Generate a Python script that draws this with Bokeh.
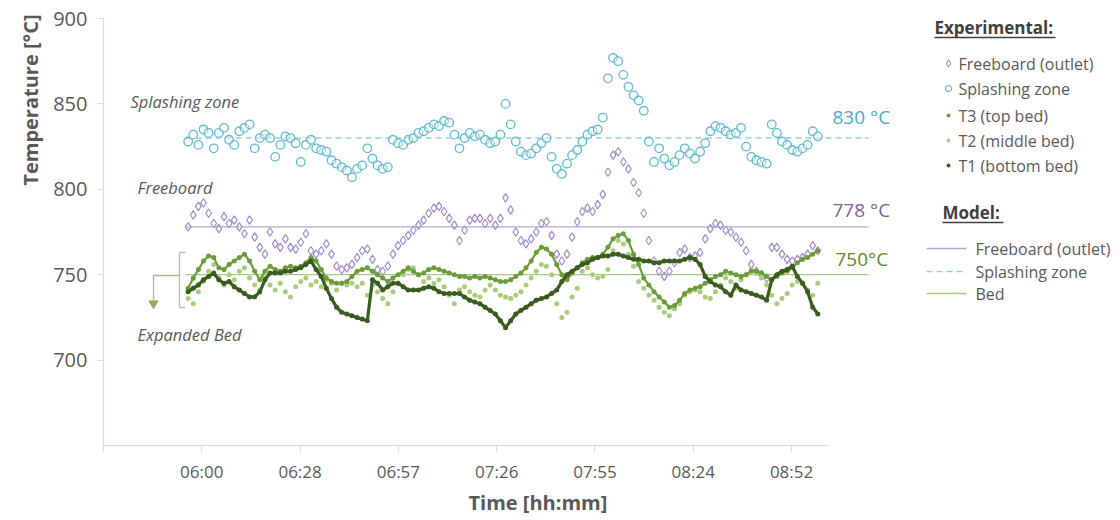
import math
from bokeh.plotting import figure
from bokeh.models import ColumnDataSource, FixedTicker, Range1d, Title
from bokeh.embed import file_html
from bokeh.resources import INLINE
from bokeh.core.properties import value

# ---------------- data ----------------
# sample times, minutes after midnight (logger every 1.5 min from 05:56)
time_min = [356.0 + 1.5 * i for i in range(124)]

splashing_zone = [
    828, 832, 826, 835, 833, 824, 833, 836, 829, 826,
    834, 836, 838, 824, 830, 832, 830, 819, 826, 831,
    830, 827, 816, 826, 829, 824, 823, 822, 817, 815,
    813, 811, 807, 812, 814, 824, 818, 814, 812, 813,
    829, 827, 826, 829, 830, 833, 834, 836, 838, 837,
    840, 839, 832, 824, 830, 833, 831, 832, 829, 827,
    828, 832, 850, 838, 828, 822, 820, 821, 824, 827,
    830, 819, 812, 809, 815, 820, 823, 828, 832, 834,
    835, 842, 865, 877, 875, 867, 860, 855, 852, 846,
    828, 816, 824, 818, 814, 816, 820, 824, 821, 818,
    822, 827, 834, 837, 836, 834, 832, 833, 836, 825,
    819, 817, 816, 815, 838, 833, 828, 826, 823, 822,
    824, 826, 834, 831,
]
freeboard_outlet = [
    778, 785, 790, 792, 786, 780, 777, 784, 780, 782,
    778, 774, 782, 772, 766, 762, 775, 768, 766, 771,
    766, 765, 769, 774, 764, 762, 764, 768, 762, 755,
    753, 754, 756, 760, 764, 765, 759, 753, 752, 755,
    762, 767, 770, 773, 776, 779, 782, 786, 789, 790,
    787, 783, 779, 770, 776, 782, 783, 783, 780, 783,
    779, 783, 795, 788, 775, 770, 768, 771, 775, 780,
    781, 773, 762, 758, 762, 772, 781, 787, 789, 787,
    791, 797, 810, 820, 822, 816, 812, 804, 798, 786,
    770, 758, 752, 749, 752, 757, 763, 765, 760, 761,
    763, 771, 777, 780, 779, 776, 775, 772, 769, 764,
    756, 752, 750, 748, 766, 766, 762, 759, 758, 759,
    760, 762, 767, 764,
]
t3_top_bed = [
    742, 748, 753, 758, 761, 760, 754, 753, 756, 758,
    760, 762, 758, 752, 747, 752, 755, 753, 752, 754,
    755, 754, 755, 757, 760, 758, 753, 748, 746, 745,
    745, 746, 749, 752, 753, 754, 752, 750, 748, 746,
    748, 750, 752, 754, 752, 750, 751, 753, 754, 753,
    752, 751, 750, 749, 749, 748, 749, 748, 749, 748,
    747, 746, 746, 747, 749, 751, 754, 758, 763, 766,
    765, 762, 756, 750, 747, 751, 754, 757, 759, 760,
    760, 762, 766, 771, 773, 774, 770, 762, 756, 748,
    744, 740, 737, 734, 731, 732, 735, 739, 741, 742,
    743, 745, 747, 749, 750, 752, 751, 750, 749, 750,
    752, 752, 751, 749, 747, 749, 751, 752, 754, 757,
    759, 760, 762, 764,
]
t2_middle_bed = [
    736, 733, 740, 746, 752, 756, 748, 744, 750, 747,
    752, 754, 748, 744, 741, 748, 744, 741, 745, 740,
    737, 743, 746, 748, 744, 746, 743, 747, 745, 741,
    745, 744, 745, 743, 745, 738, 744, 740, 736, 733,
    740, 745, 750, 753, 754, 750, 746, 748, 745, 747,
    743, 738, 733, 741, 743, 740, 738, 737, 741, 744,
    741, 738, 737, 736, 738, 740, 744, 748, 752, 756,
    755, 750, 733, 725, 728, 737, 742, 752, 754, 750,
    748, 749, 753, 764, 770, 768, 762, 755, 746, 742,
    738, 735, 731, 728, 726, 730, 733, 738, 740, 741,
    740, 737, 736, 740, 744, 748, 746, 742, 747, 750,
    753, 751, 748, 744, 738, 733, 736, 739, 744, 746,
    745, 741, 738, 745,
]
t1_bottom_bed = [
    740, 742, 744, 747, 749, 751, 747, 745, 746, 743,
    741, 739, 737, 737, 740, 747, 751, 751, 751, 752,
    752, 753, 754, 756, 758, 753, 749, 742, 736, 731,
    728, 727, 726, 725, 724, 723, 747, 745, 741, 743,
    745, 745, 743, 741, 741, 741, 742, 743, 742, 740,
    739, 739, 739, 739, 737, 735, 734, 733, 731, 729,
    727, 723, 719, 723, 727, 729, 731, 733, 735, 736,
    737, 739, 741, 746, 750, 752, 754, 756, 757, 759,
    760, 761, 761, 762, 762, 761, 760, 759, 759, 758,
    758, 757, 757, 758, 758, 758, 758, 759, 760, 759,
    756, 749, 746, 744, 743, 740, 738, 744, 741, 740,
    739, 738, 737, 735, 747, 750, 752, 753, 755, 749,
    745, 740, 731, 727,
]

model_names = ["Freeboard (outlet)", "Splashing zone", "Bed"]
model_values = [778, 830, 750]
model_value_labels = ["778 °C", "830 °C", "750°C"]

experimental_names = ["Freeboard (outlet)", "Splashing zone", "T3 (top bed)",
                      "T2 (middle bed)", "T1 (bottom bed)"]

x_tick_pos = [331.2, 360.0, 388.8, 417.6, 446.4, 475.2, 504.0, 532.8]
x_tick_labels = ["", "06:00", "06:28", "06:57", "07:26", "07:55", "08:24", "08:52"]
y_ticks = [700, 750, 800, 850, 900]

# ---------------- layout helpers (pixel positions -> data space) ----------------
W, H = 1120, 520
L, R, T, B = 103, 1118, 18, 445
X0 = 331.2
MIN_PER_PX = 0.293
Y0, Y1 = 650, 900
X_END = X0 + (R - L) * MIN_PER_PX


def px2x(px):
    return X0 + (px - L) * MIN_PER_PX


def py2y(py):
    return Y1 - (py - T) * (Y1 - Y0) / (B - T)


FONT = "Open Sans"
GREY = "#595959"
C_SPLASH = "#5fbbd0"
C_FREE = "#9f8ccb"
C_T3 = "#6c9c3a"
C_T2 = "#a8cd7a"
C_T1 = "#3a5c1e"

n = min(len(time_min), len(splashing_zone), len(freeboard_outlet),
        len(t3_top_bed), len(t2_middle_bed), len(t1_bottom_bed))
src = ColumnDataSource(dict(
    t=time_min[:n], sz=splashing_zone[:n], fb=freeboard_outlet[:n],
    t3=t3_top_bed[:n], t2=t2_middle_bed[:n], t1=t1_bottom_bed[:n]))

p = figure(width=W, height=H, x_range=Range1d(X0, X_END), y_range=Range1d(Y0, Y1),
           output_backend="svg", toolbar_location=None,
           min_border_left=L, min_border_right=W - R,
           min_border_top=T, min_border_bottom=H - B)
p.outline_line_color = None
p.grid.visible = False
p.background_fill_color = "white"
p.border_fill_color = "white"

# axes
p.xaxis.ticker = FixedTicker(ticks=x_tick_pos)
p.xaxis.major_label_overrides = dict(zip(x_tick_pos, x_tick_labels))
p.xaxis.bounds = (X0, px2x(829))
p.yaxis.ticker = FixedTicker(ticks=y_ticks)
for ax in (p.xaxis, p.yaxis):
    ax.axis_line_color = "#d9d9d9"
    ax.axis_line_width = 1.2
    ax.major_tick_line_color = "#d9d9d9"
    ax.major_tick_in = 0
    ax.major_tick_out = 6
    ax.minor_tick_line_color = None
    ax.major_label_text_color = GREY
    ax.major_label_text_font = FONT
p.xaxis.major_label_text_font_size = "17px"
p.xaxis.major_label_standoff = 8
p.yaxis.major_label_text_font_size = "20px"
p.yaxis.major_label_standoff = 10

# axis titles placed as side titles
p.add_layout(Title(text="Time [hh:mm]", align="left", offset=540 - 72 - L,
                   text_font=FONT, text_font_size="20px", text_font_style="bold",
                   text_color=GREY, standoff=2), "below")
p.add_layout(Title(text="Temperature [°C]", align="right", offset=-4,
                   text_font=FONT, text_font_size="20px", text_font_style="bold",
                   text_color=GREY, standoff=14), "left")

# model lines
x_model = [px2x(185), px2x(868)]
model_styles = [dict(color="#b2a4d6", dash="solid", width=1.3),
                dict(color="#93cfe0", dash="6 4", width=1.6),
                dict(color="#a9c880", dash="solid", width=1.3)]
for val, st in zip(model_values, model_styles):
    p.line(x_model, [val, val], line_color=st["color"], line_dash=st["dash"], line_width=st["width"])

# experimental data
p.scatter("t", "sz", source=src, marker="circle", size=8.5, line_color=C_SPLASH,
          line_width=1.3, fill_color="white", fill_alpha=0.4)
p.scatter("t", "fb", source=src, marker="diamond", size=8.5, line_color=C_FREE,
          line_width=1.2, fill_color="white", fill_alpha=0.3)
p.scatter("t", "t2", source=src, marker="circle", size=5, line_color=None, fill_color=C_T2)
p.line("t", "t3", source=src, line_color=C_T3, line_width=2.2)
p.scatter("t", "t3", source=src, marker="circle", size=5, line_color=None, fill_color=C_T3)
p.line("t", "t1", source=src, line_color=C_T1, line_width=3.2)
p.scatter("t", "t1", source=src, marker="circle", size=5, line_color=None, fill_color=C_T1)

# expanded-bed bracket and arrow
br = "#b8b8b0"
p.segment(x0=[px2x(179), px2x(179), px2x(179)], y0=[py2y(252), py2y(252), py2y(307)],
          x1=[px2x(179), px2x(185), px2x(185)], y1=[py2y(307), py2y(252), py2y(307)],
          line_color=br, line_width=1.3)
p.segment(x0=[px2x(153), px2x(153)], y0=[py2y(275), py2y(275)],
          x1=[px2x(179), px2x(153)], y1=[py2y(275), py2y(300)],
          line_color="#a9b98e", line_width=1.3)
p.scatter([px2x(153)], [py2y(303)], marker="inverted_triangle", size=9,
          fill_color="#8fae58", line_color="#8fae58")


def add_text(texts, pxs, pys, size, color=GREY, style="normal", align="left"):
    p.text(x=[px2x(v) for v in pxs], y=[py2y(v) for v in pys], text=texts,
           text_font=value(FONT), text_font_size=size, text_color=color,
           text_font_style=style, text_align=align, text_baseline="middle")


# in-plot annotations
add_text(["Splashing zone", "Freeboard", "Expanded Bed"], [130, 137, 137], [101, 187, 334],
         "16.5px", style="italic")
add_text([model_value_labels[1]], [832], [116], "19px", color="#4bacc6")
add_text([model_value_labels[0]], [832], [209], "19px", color="#8064a2")
add_text([model_value_labels[2]], [835], [258], "19px", color="#5a8a2e")

# ---------------- legend (right side) ----------------
add_text(["Experimental:", "Model:"], [934, 942], [27, 212], "17px", color="#404040", style="bold")
p.segment(x0=[px2x(934), px2x(942)], y0=[py2y(37), py2y(222)],
          x1=[px2x(1055), px2x(1003)], y1=[py2y(37), py2y(222)],
          line_color="#404040", line_width=1.3)

ey = [63, 88, 115, 140, 165]
p.scatter([px2x(948)], [py2y(ey[0])], marker="diamond", size=7, line_color=C_FREE,
          fill_color="white", line_width=1.1)
p.scatter([px2x(948)], [py2y(ey[1])], marker="circle", size=6, line_color=C_SPLASH,
          fill_color="white", line_width=1.1)
p.scatter([px2x(948)] * 3, [py2y(v) for v in ey[2:]], marker="circle", size=4,
          line_color=None, fill_color=[C_T3, C_T2, C_T1])
add_text(experimental_names, [958] * 5, ey, "16px")

my = [248, 271, 293]
for yy, st in zip(my, model_styles):
    p.line([px2x(926), px2x(966)], [py2y(yy), py2y(yy)], line_color=st["color"],
           line_dash=st["dash"], line_width=st["width"])
add_text(model_names, [975] * 3, my, "16px")

open("out.html", "w").write(file_html(p, INLINE))
